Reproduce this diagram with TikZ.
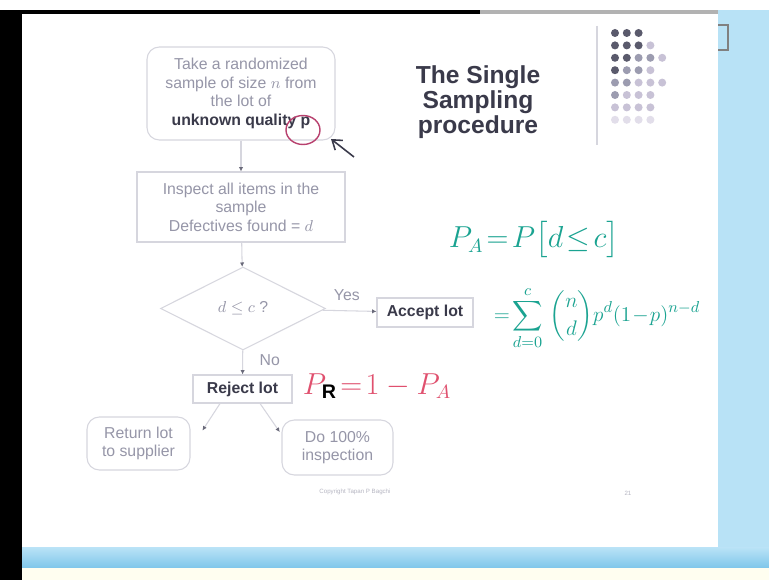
\documentclass[tikz,border=0pt]{standalone}
\usepackage{fontspec}
\usepackage{amsmath}
\setmainfont{Liberation Sans}
\usetikzlibrary{shapes.geometric,arrows.meta}
\definecolor{boxline}{HTML}{D6D6DE}
\definecolor{txt}{HTML}{9696A8}
\definecolor{txtdark}{HTML}{3A3A4A}
\definecolor{tipc}{HTML}{6A6A7A}
\definecolor{teal}{HTML}{1AA391}
\definecolor{pinkred}{HTML}{E0506E}
\definecolor{circc}{HTML}{B8406E}
\definecolor{skyblue}{HTML}{B8E2F6}
\definecolor{barblue}{HTML}{7EC6EA}
\definecolor{dotA}{HTML}{5A5A6C}
\definecolor{dotB}{HTML}{9C9CB0}
\definecolor{dotC}{HTML}{C8C2D6}
\definecolor{dotD}{HTML}{E2DEEA}

\begin{document}
\begin{tikzpicture}[x=0.02cm,y=-0.02cm,font=\fontsize{9}{10.5}\selectfont,
  box/.style={draw=boxline,line width=0.6pt,text=txt,align=center,inner sep=1pt},
  rbox/.style={box,rounded corners=7pt},
  flow/.style={draw=boxline,line width=0.6pt,-{Latex[length=2.5pt,width=2.5pt,color=tipc]}},
  hand/.style={text=teal,font=\fontsize{16}{19}\selectfont,inner sep=0pt}]
  \useasboundingbox (0,0) rectangle (769,580);
  % screen around the slide
  \fill[white] (0,0) rectangle (769,580);
  \fill[black] (0,10) rectangle (22,580);
  \fill[black] (22,10) rectangle (480,14);
  \fill[gray!60] (480,10) rectangle (718,14);
  \fill[skyblue] (718,10) rectangle (769,556);
  \draw[gray,line width=0.8pt] (718,25) -- (728,25) -- (728,50) -- (718,50);
  \shade[top color=skyblue,bottom color=barblue] (22,548) rectangle (769,568);
  \fill[yellow!6] (22,568) rectangle (769,580);
  % slide decoration
  \draw[boxline,line width=0.8pt] (597,26) -- (597,145);
  \foreach \r/\list in {0/{A,A,A},1/{A,A,A,C},2/{A,A,B,B,C},3/{A,B,B,C},
                        4/{B,B,C,C,C},5/{B,C,C,C},6/{C,C,C,C},7/{D,D,D,D}}{
    \foreach \c [count=\i from 0] in \list {
      \fill[dot\c] (615+11.8*\i,33+12.4*\r) circle (4);}}
  \node[text=txtdark,align=center,font=\bfseries\fontsize{14}{14.4}\selectfont] (title) at (478,102)
       {The Single\\ Sampling\\ procedure};
  % flowchart
  \node[rbox,minimum width=3.76cm,minimum height=1.86cm] (take) at (241,93.5)
       {Take a randomized\\ sample of size $n$ from\\ the lot of\\ \textcolor{txtdark}{\bfseries unknown quality p}};
  \node[box,minimum width=4.16cm,minimum height=1.4cm] (insp) at (241,207)
       {Inspect all items in the\\ sample\\ Defectives found = $d$};
  \node[box,diamond,aspect=2,minimum width=3.3cm,minimum height=1.66cm,inner sep=0pt] (dec) at (243,308.5)
       {$d \le c$ ?};
  \node[box,text=txtdark,font=\bfseries\fontsize{9}{10.5}\selectfont,minimum width=1.92cm,minimum height=0.58cm] (acc) at (425,312.5)
       {Accept lot};
  \node[box,text=txtdark,font=\bfseries\fontsize{9}{10.5}\selectfont,minimum width=1.98cm,minimum height=0.56cm] (rej) at (242.5,389)
       {Reject lot};
  \node[rbox,minimum width=2.06cm,minimum height=1.06cm] (ret) at (138.5,443.5)
       {Return lot\\ to supplier};
  \node[rbox,minimum width=2.22cm,minimum height=1.1cm] (full) at (337.5,447.5)
       {Do 100\%\\ inspection};
  \draw[flow] (take) -- (insp);
  \draw[flow] (insp) -- (dec);
  \draw[flow] (dec) -- node[above,text=txt,pos=0.45,yshift=2pt] {Yes} (acc);
  \draw[flow] (dec) -- node[right,text=txt,pos=0.4,xshift=6pt] {No} (rej);
  \draw[flow] ([xshift=-12.8pt]rej.south) -- ([xshift=6.8pt,yshift=7.4pt]ret.east);
  \draw[flow] ([xshift=10pt]rej.south) -- ([xshift=-1pt,yshift=8.8pt]full.west);
  \node[text=txt!70,font=\fontsize{3.5}{4}\selectfont] (copy) at (355,492) {Copyright Tapan P Bagchi};
  \node[text=txt!70,font=\fontsize{3.5}{4}\selectfont] (page) at (628,493) {21};
  % handwritten notes
  \node[draw=circc,line width=0.8pt,ellipse,minimum width=0.68cm,minimum height=0.58cm,inner sep=0pt] (circ) at (303,130) {};
  \coordinate (tail) at (354,157);
  \coordinate (tip) at (331,139);
  \draw[txtdark,line width=0.9pt,-{Straight Barb[length=5pt,width=7pt]}] (tail) -- (tip);
  \node[hand] (pa) at (534,240) {$P_A\!=\!P\bigl[d\!\le\!c\bigr]$};
  \node[hand,font=\fontsize{12.5}{15}\selectfont] (pasum) at (597,318)
       {$=\!\displaystyle\sum_{d=0}^{c}\,\binom{n}{d}p^{d}(1\!-\!p)^{n-d}$};
  \node[hand,text=pinkred] (pr) at (377,386)
       {$P_{\textcolor{black}{\mathbf{R}}}\!=\!1-P_A$};
\end{tikzpicture}
\end{document}
